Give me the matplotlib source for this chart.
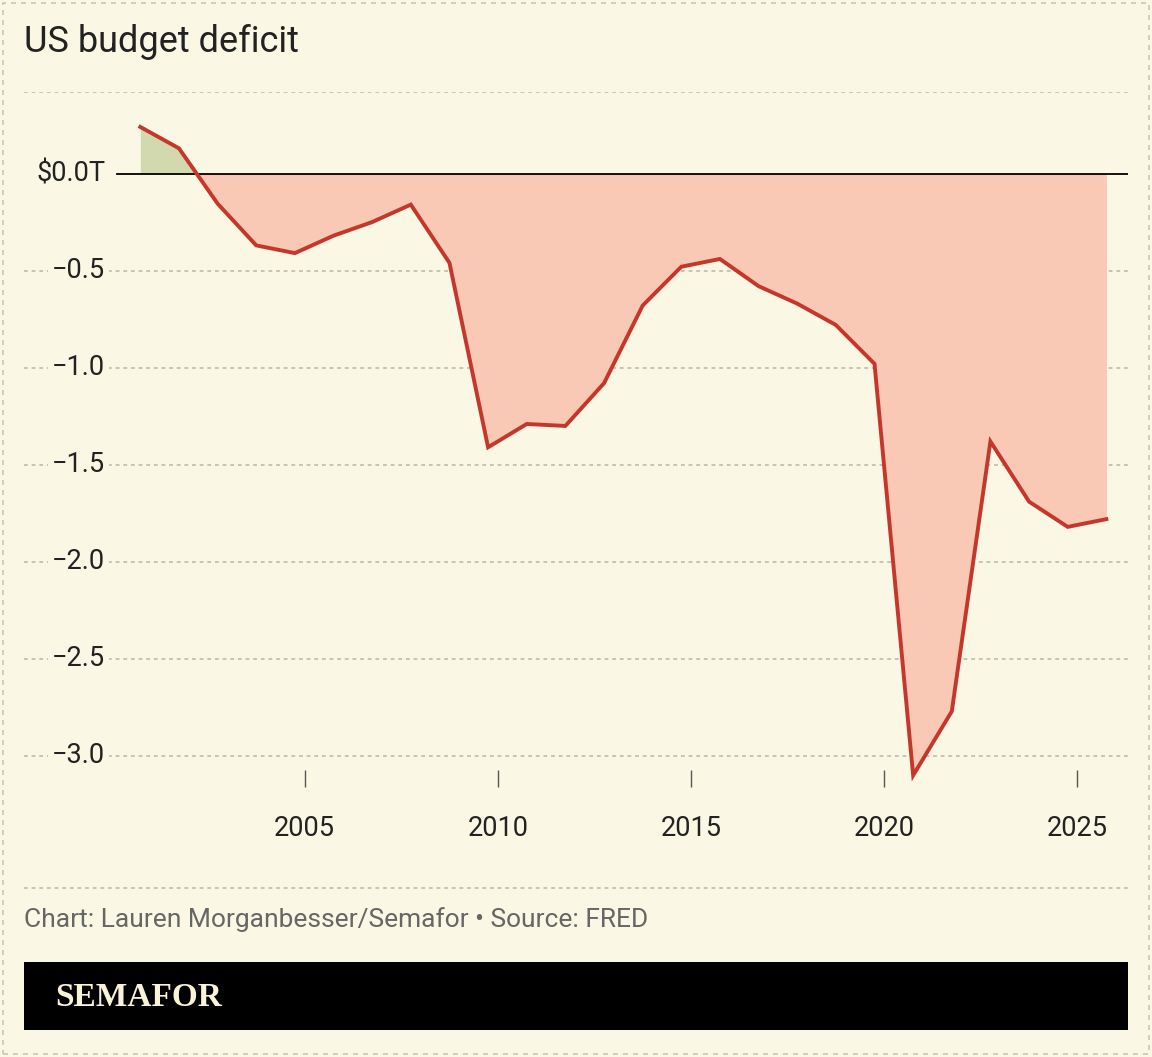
import matplotlib
matplotlib.use("Agg")
import matplotlib.pyplot as plt
from matplotlib.patches import Rectangle
import numpy as np

fiscal_years = list(range(2000, 2026))
deficit = [0.24, 0.13, -0.155, -0.37, -0.41, -0.32, -0.25, -0.16, -0.46, -1.41,
           -1.29, -1.30, -1.08, -0.68, -0.48, -0.44, -0.58, -0.67, -0.78, -0.98,
           -3.10, -2.77, -1.38, -1.69, -1.82, -1.78]
yticks = [0.0, -0.5, -1.0, -1.5, -2.0, -2.5, -3.0]
ytick_labels = ["$0.0T", "\u22120.5", "\u22121.0", "\u22121.5", "\u22122.0", "\u22122.5", "\u22123.0"]
xticks = [2005, 2010, 2015, 2020, 2025]

BG = "#faf8e4"
plt.rcParams['font.family'] = ['Roboto', 'DejaVu Sans']
W, H = 1152, 1057
fig = plt.figure(figsize=(W/100, H/100), dpi=100, facecolor=BG)

def fx(px): return px / W
def fy(py): return 1 - py / H

YB = 787
ax = fig.add_axes([fx(24), fy(YB), fx(1128) - fx(24), fy(92) - fy(YB)])
ax.set_facecolor(BG)
x = np.array(fiscal_years) + 0.75
y = np.array(deficit)
ax.set_xlim(1997.74, 2026.31)
ax.set_ylim(-(YB - 174) / 194, 0.42)
ax.fill_between(x, y, 0, where=y >= 0, interpolate=True, color="#d3d9ae", lw=0)
ax.fill_between(x, y, 0, where=y <= 0, interpolate=True, color="#f9c9b6", lw=0)
for v in yticks[1:] + [0.42]:
    ax.axhline(v, color="#b8b8a8", lw=1.1, ls=(0, (2.5, 2.5)), zorder=0)
ax.plot([x[0] - 0.6, 2026.31], [0, 0], color="black", lw=1.3, zorder=3)
ax.plot(x, y, color="#c5372b", lw=2.8, zorder=4, solid_joinstyle="miter")
for s in ax.spines.values():
    s.set_visible(False)
ax.set_yticks([])
ax.set_xticks(xticks)
ax.set_xticklabels([str(t) for t in xticks], fontsize=19.5, color="#222222")
ax.tick_params(axis="x", direction="in", length=12, width=1, color="#555555", pad=20)
for v, lab in zip(yticks, ytick_labels):
    ax.text(1997.74 + 81/38.6, v, lab, ha="right", va="center", fontsize=19.5,
            color="#222222", bbox=dict(facecolor=BG, edgecolor="none", pad=3), zorder=5)

fig.text(fx(24), fy(42), "US budget deficit", fontsize=26, color="#222222", va="center")
fig.add_artist(plt.Line2D([fx(24), fx(1128)], [fy(888), fy(888)], color="#b8b8a8", lw=1.1, ls=(0, (2.5, 2.5))))
fig.text(fx(24), fy(920), "Chart: Lauren Morganbesser/Semafor \u2022 Source: FRED", fontsize=19,
         color="#666666", va="center")
fig.add_artist(Rectangle((fx(24), fy(1030)), fx(1128) - fx(24), fy(962) - fy(1030),
                         transform=fig.transFigure, facecolor="black", edgecolor="none"))
fig.text(fx(55), fy(997), "SEMAFOR", fontsize=24, fontweight="bold", family="Liberation Serif",
         color="#faf3d8", va="center")
fig.add_artist(Rectangle((fx(3), fy(1054)), fx(1146), fy(3) - fy(1054), transform=fig.transFigure,
                         facecolor="none", edgecolor="#c8c8b0", lw=1.2, ls=(0, (3, 3))))
fig.savefig("out.png", dpi=100, facecolor=BG)
